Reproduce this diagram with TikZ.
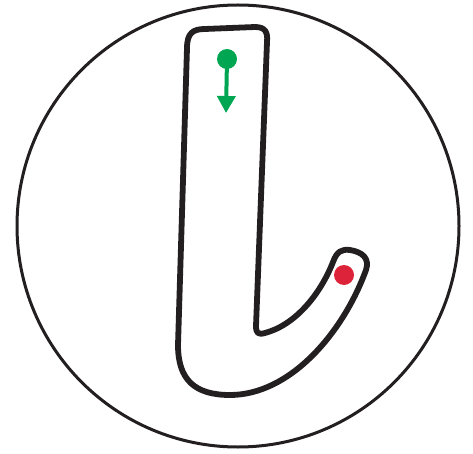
\documentclass[tikz,border=0pt]{standalone}
\usepackage{tikz}
\usetikzlibrary{arrows.meta}
\definecolor{inkblack}{RGB}{35,31,32}
\definecolor{startgreen}{RGB}{0,166,81}
\definecolor{endred}{RGB}{220,35,57}
\tikzset{dot/.style={circle,inner sep=0pt,minimum size=20pt}}
\begin{document}
\begin{tikzpicture}[x=1pt,y=-1pt]
\useasboundingbox (0,0) rectangle (473,454);
\draw[inkblack,line width=3pt] (238,226) circle (221);

%%% letter l
\draw[inkblack,line width=5.8pt,line join=round] (187,48) .. controls (187,33) and (193,29) .. (205,29)
  -- (255,27) .. controls (265,27) and (268,32) .. (267,42)
  -- (256,326) .. controls (256,333) and (258,335) .. (265,333)
  .. controls (295,325) and (320,295) .. (333,262)
  .. controls (337,251) and (342,249) .. (350,250)
  .. controls (362,252) and (370,258) .. (366,270)
  .. controls (343,333) and (290,395) .. (230,395)
  .. controls (195,395) and (178,380) .. (178,345) -- cycle;

\node[dot,fill=startgreen] (start) at (227,59) {};
\coordinate (dir) at (226,113);
\draw[startgreen,line width=4pt,-{Triangle[length=17pt,width=18pt]}] (start.center) -- (dir);
\node[dot,fill=endred] (finish) at (344,275) {};
\end{tikzpicture}
\end{document}
